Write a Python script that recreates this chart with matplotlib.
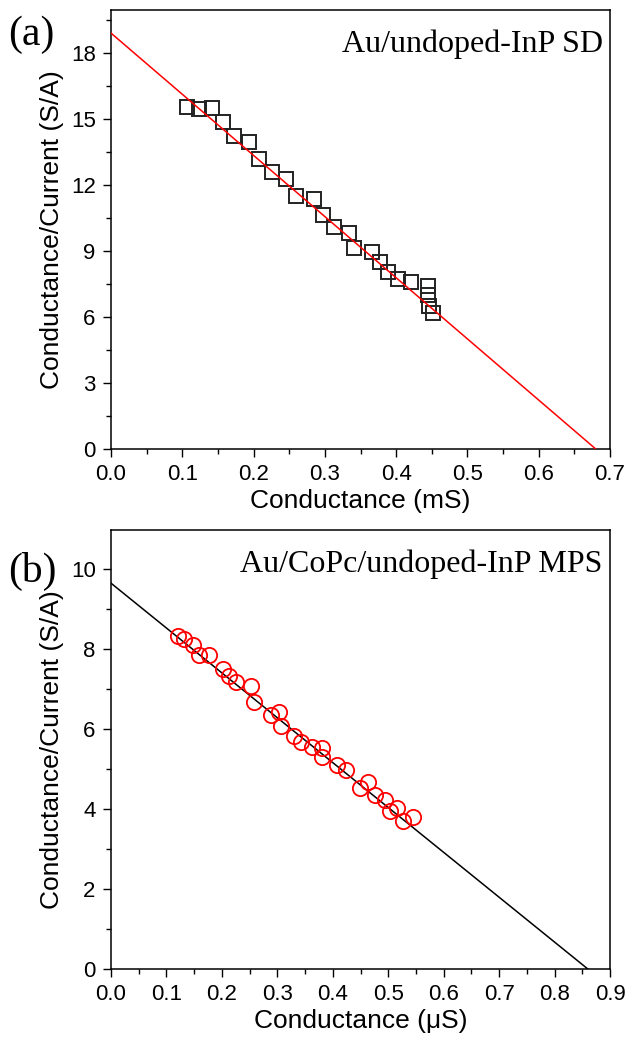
import numpy as np
import matplotlib
matplotlib.use("Agg")
import matplotlib.pyplot as plt
from matplotlib.ticker import MultipleLocator

plt.rcParams['font.family'] = ['Liberation Sans', 'DejaVu Sans']

# Panel (a): Au/undoped-InP SD
a_x = [0.106, 0.124, 0.142, 0.157, 0.173, 0.193, 0.208, 0.226, 0.246, 0.259,
       0.285, 0.297, 0.313, 0.334, 0.341, 0.366, 0.377, 0.388, 0.402, 0.421,
       0.444, 0.444, 0.446, 0.452]
a_y = [15.52, 15.44, 15.48, 14.87, 14.24, 13.94, 13.16, 12.60, 12.27, 11.50,
       11.35, 10.63, 10.11, 9.83, 9.15, 8.97, 8.49, 8.06, 7.72, 7.57,
       7.39, 7.02, 6.49, 6.19]
a_fit_intercept = 18.9
a_fit_xzero = 0.68

# Panel (b): Au/CoPc/undoped-InP MPS
b_x = [0.120, 0.132, 0.147, 0.159, 0.177, 0.202, 0.213, 0.226, 0.253, 0.258,
       0.288, 0.303, 0.307, 0.330, 0.343, 0.363, 0.380, 0.381, 0.408, 0.424,
       0.449, 0.464, 0.476, 0.494, 0.503, 0.516, 0.527, 0.544]
b_y = [8.32, 8.25, 8.11, 7.86, 7.86, 7.50, 7.33, 7.17, 7.07, 6.67,
       6.36, 6.42, 6.07, 5.82, 5.69, 5.55, 5.52, 5.29, 5.11, 4.98,
       4.52, 4.67, 4.36, 4.23, 3.94, 4.03, 3.69, 3.81]
b_fit_intercept = 9.65
b_fit_xzero = 0.86

a_xticks = [0.0, 0.1, 0.2, 0.3, 0.4, 0.5, 0.6, 0.7]
a_yticks = [0, 3, 6, 9, 12, 15, 18]
b_xticks = [0.0, 0.1, 0.2, 0.3, 0.4, 0.5, 0.6, 0.7, 0.8, 0.9]
b_yticks = [0, 2, 4, 6, 8, 10]

fig = plt.figure(figsize=(6.30, 10.41), dpi=100)
L, R = 111/630, 610/630
axa = fig.add_axes([L, 1-449/1041, R-L, (449-10)/1041])
axb = fig.add_axes([L, 1-969/1041, R-L, (969-530)/1041])

def style(ax, xticks, yticks, xmin, ymin):
    ax.set_xticks(xticks)
    ax.set_xticklabels([f"{t:.1f}" for t in xticks])
    ax.set_yticks(yticks)
    ax.set_yticklabels([str(t) for t in yticks])
    ax.xaxis.set_minor_locator(MultipleLocator(xmin))
    ax.yaxis.set_minor_locator(MultipleLocator(ymin))
    ax.tick_params(which='major', direction='out', length=6, width=1.0,
                   labelsize=16, pad=5, top=False, right=False)
    ax.tick_params(which='minor', direction='out', length=3.5, width=1.0,
                   top=False, right=False)
    for s in ax.spines.values():
        s.set_linewidth(1.1)

# Panel (a)
fx = np.array([0.0, a_fit_xzero])
axa.plot(fx, a_fit_intercept * (1 - fx / a_fit_xzero), color='red', lw=1.1, zorder=3)
axa.plot(a_x, a_y, linestyle='none', marker='s', ms=10, mfc='none',
         mec='#222222', mew=1.4, zorder=2)
axa.set_xlim(0, 0.7)
axa.set_ylim(0, 19.95)
style(axa, a_xticks, a_yticks, 0.05, 1.5)
axa.set_xlabel('Conductance (mS)', fontsize=19, labelpad=3)
axa.set_ylabel('Conductance/Current (S/A)', fontsize=19, labelpad=5)
axa.text(0.985, 0.955, 'Au/undoped-InP SD', transform=axa.transAxes,
         ha='right', va='top', fontsize=23, family=['Liberation Serif'])
fig.text(8/630, 1-16/1041, '(a)', ha='left', va='top', fontsize=30,
         family=['Liberation Serif'])

# Panel (b)
fx = np.array([0.0, b_fit_xzero])
axb.plot(fx, b_fit_intercept * (1 - fx / b_fit_xzero), color='black', lw=1.1, zorder=2)
axb.plot(b_x, b_y, linestyle='none', marker='o', ms=11, mfc='none',
         mec='red', mew=1.3, zorder=3)
axb.set_xlim(0, 0.9)
axb.set_ylim(0, 10.98)
style(axb, b_xticks, b_yticks, 0.05, 1)
axb.set_xlabel('Conductance (μS)', fontsize=19, labelpad=3)
axb.set_ylabel('Conductance/Current (S/A)', fontsize=19, labelpad=5)
axb.text(0.985, 0.955, 'Au/CoPc/undoped-InP MPS', transform=axb.transAxes,
         ha='right', va='top', fontsize=23, family=['Liberation Serif'])
fig.text(8/630, 1-552/1041, '(b)', ha='left', va='top', fontsize=30,
         family=['Liberation Serif'])

fig.savefig('out.png', dpi=100)
